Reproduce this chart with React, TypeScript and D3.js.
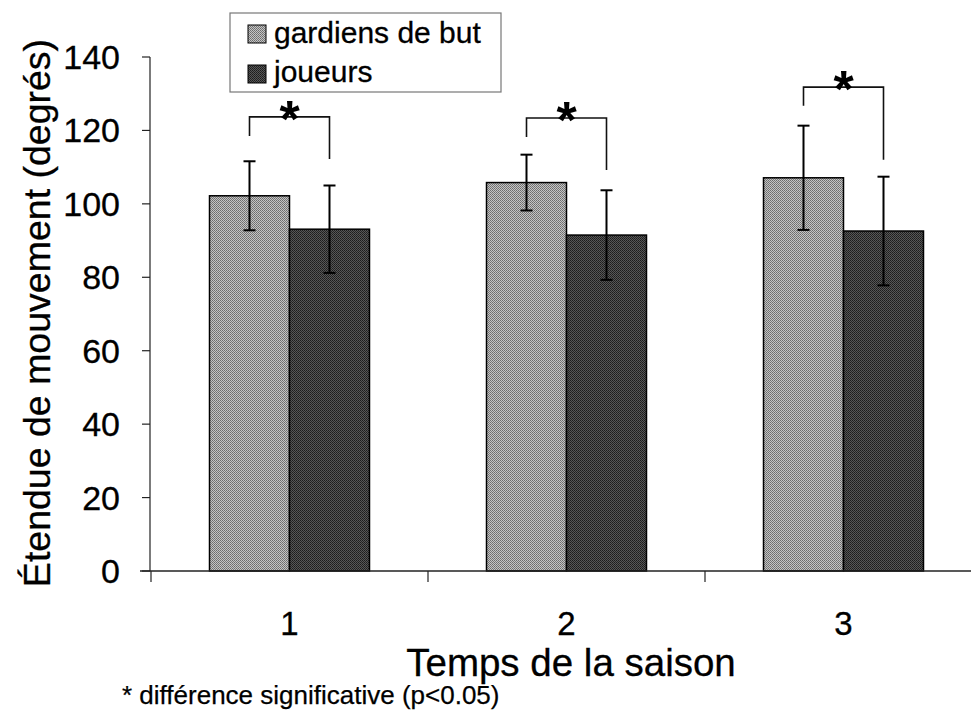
import React from "react";
import * as d3 from "d3";

// Season periods and the two player groups
const periods = ["1", "2", "3"];
const groups = ["gardiens de but", "joueurs"];

// Mean range of motion (degrees) and standard deviations
const goalieMeans = [102.2, 105.8, 107.1];
const goalieSD = [9.4, 7.6, 14.2];
const playerMeans = [93.1, 91.5, 92.6];
const playerSD = [11.9, 12.2, 14.8];

// Significance brackets: top level, and lower ends of left/right legs (degrees)
const bracketTop = [123.7, 123.4, 131.8];
const bracketLeftEnd = [118.5, 118.2, 126.7];
const bracketRightEnd = [112.2, 109.2, 112.0];

const yTicks = [0, 20, 40, 60, 80, 100, 120, 140];

const W = 971;
const H = 715;
const FONT = "'Liberation Sans', Arial, sans-serif";

export default function App() {
  const x = d3.scaleBand<string>().domain(periods).range([151, 982]).padding(0);
  const step = x.bandwidth();
  const inner = d3
    .scaleBand<string>()
    .domain(groups)
    .range([(step - 160) / 2, (step + 160) / 2])
    .padding(0);
  const y = d3.scaleLinear().domain([0, 140]).range([571, 57]);

  const means = [goalieMeans, playerMeans];
  const sds = [goalieSD, playerSD];
  const fills = ["url(#ditherLight)", "url(#ditherDark)"];
  const bw = inner.bandwidth();
  const cap = 6;
  const starSize = 52;

  return (
    <svg
      width={W}
      height={H}
      style={{ position: "absolute", left: 0, top: 0, background: "#fff" }}
      fontFamily={FONT}
    >
      <defs>
        <pattern id="ditherLight" width="2" height="2" patternUnits="userSpaceOnUse">
          <rect width="2" height="2" fill="#c4c4c4" />
          <rect width="1" height="1" fill="#6c6c6c" />
          <rect x="1" y="1" width="1" height="1" fill="#7a7a7a" />
        </pattern>
        <pattern id="ditherDark" width="2" height="2" patternUnits="userSpaceOnUse">
          <rect width="2" height="2" fill="#575757" />
          <rect width="1" height="1" fill="#1c1c1c" />
          <rect x="1" y="1" width="1" height="1" fill="#262626" />
        </pattern>
      </defs>

      {/* bars */}
      {periods.map((p, i) =>
        groups.map((g, s) => {
          const bx = (x(p) ?? 0) + (inner(g) ?? 0);
          const v = means[s][i];
          return (
            <rect
              key={`b${p}${g}`}
              x={bx}
              y={y(v)}
              width={bw}
              height={y(0) - y(v)}
              fill={fills[s]}
              stroke="#000"
              strokeWidth={1.5}
            />
          );
        })
      )}

      {/* error bars */}
      {periods.map((p, i) =>
        groups.map((g, s) => {
          const cx = (x(p) ?? 0) + (inner(g) ?? 0) + bw / 2;
          const v = means[s][i];
          const e = sds[s][i];
          return (
            <g key={`e${p}${g}`} stroke="#000" strokeWidth={2}>
              <line x1={cx} x2={cx} y1={y(v + e)} y2={y(v - e)} />
              <line x1={cx - cap} x2={cx + cap} y1={y(v + e)} y2={y(v + e)} />
              <line x1={cx - cap} x2={cx + cap} y1={y(v - e)} y2={y(v - e)} />
            </g>
          );
        })
      )}

      {/* significance brackets */}
      {periods.map((p, i) => {
        const lx = (x(p) ?? 0) + (inner(groups[0]) ?? 0) + bw / 2;
        const rx = (x(p) ?? 0) + (inner(groups[1]) ?? 0) + bw / 2;
        const path = d3.path();
        path.moveTo(lx, y(bracketLeftEnd[i]));
        path.lineTo(lx, y(bracketTop[i]));
        path.lineTo(rx, y(bracketTop[i]));
        path.lineTo(rx, y(bracketRightEnd[i]));
        return (
          <g key={`s${p}`}>
            <path d={path.toString()} fill="none" stroke="#111" strokeWidth={1.6} />
            <text
              x={(lx + rx) / 2}
              y={y(bracketTop[i]) - 10 + 0.575 * starSize}
              fontSize={starSize}
              fontWeight="bold"
              textAnchor="middle"
              fill="#000"
            >
              *
            </text>
          </g>
        );
      })}

      {/* y axis */}
      <line x1={150} x2={150} y1={y(140)} y2={y(0)} stroke="#222" strokeWidth={1.2} />
      {yTicks.map((t) => (
        <g key={`yt${t}`}>
          <line x1={142} x2={150} y1={y(t)} y2={y(t)} stroke="#222" strokeWidth={1.2} />
          <text
            x={120}
            y={y(t) + 12}
            fontSize={34}
            textAnchor="end"
            fill="#000"
            stroke="#000"
            strokeWidth={0.3}
          >
            {t}
          </text>
        </g>
      ))}

      {/* x axis */}
      <line x1={140} x2={W} y1={y(0)} y2={y(0)} stroke="#222" strokeWidth={1.5} />
      {periods.map((p) => (
        <g key={`xt${p}`}>
          <line
            x1={x(p) ?? 0}
            x2={x(p) ?? 0}
            y1={y(0)}
            y2={y(0) + 11}
            stroke="#222"
            strokeWidth={1.2}
          />
          <text
            x={(x(p) ?? 0) + step / 2}
            y={635}
            fontSize={33}
            textAnchor="middle"
            fill="#000"
            stroke="#000"
            strokeWidth={0.3}
          >
            {p}
          </text>
        </g>
      ))}

      {/* axis titles */}
      <text
        x={571}
        y={676}
        fontSize={38.5}
        textAnchor="middle"
        fill="#000"
        stroke="#000"
        strokeWidth={0.3}
      >
        Temps de la saison
      </text>
      <text
        transform={`translate(50,313) rotate(-90)`}
        fontSize={37.5}
        textAnchor="middle"
        fill="#000"
        stroke="#000"
        strokeWidth={0.3}
      >
        Étendue de mouvement (degrés)
      </text>

      {/* footnote */}
      <text x={122} y={704} fontSize={26} fill="#000" stroke="#000" strokeWidth={0.25}>
        * différence significative (p&lt;0.05)
      </text>

      {/* legend */}
      <rect x={230} y={13} width={271} height={79} fill="#fff" stroke="#777" strokeWidth={1.2} />
      {groups.map((g, s) => (
        <g key={`lg${g}`}>
          <rect
            x={248}
            y={25 + s * 40}
            width={18}
            height={18}
            fill={fills[s]}
            stroke="#000"
            strokeWidth={1}
          />
          <text
            x={274}
            y={43 + s * 39}
            fontSize={30}
            fill="#000"
            stroke="#000"
            strokeWidth={0.3}
          >
            {g}
          </text>
        </g>
      ))}
    </svg>
  );
}
